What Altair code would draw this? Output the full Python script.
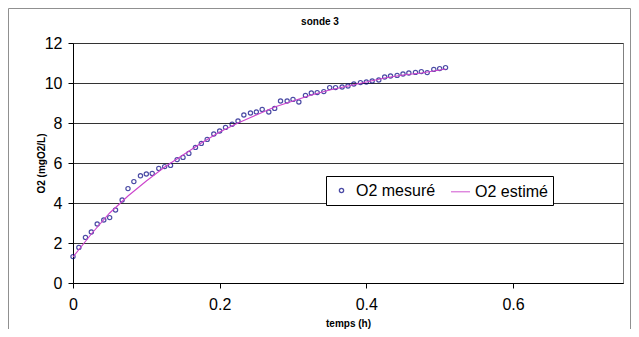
import altair as alt
import pandas as pd

# Measured O2 (points)
t_mes = [0, 0.008, 0.017, 0.025, 0.033, 0.042, 0.05, 0.058, 0.067, 0.075,
         0.083, 0.092, 0.1, 0.108, 0.117, 0.125, 0.133, 0.142, 0.15, 0.158,
         0.167, 0.175, 0.183, 0.192, 0.2, 0.208, 0.217, 0.225, 0.233, 0.242,
         0.25, 0.258, 0.267, 0.275, 0.283, 0.292, 0.3, 0.308, 0.317, 0.325,
         0.333, 0.342, 0.35, 0.358, 0.367, 0.375, 0.383, 0.392, 0.4, 0.408,
         0.417, 0.425, 0.433, 0.442, 0.45, 0.458, 0.467, 0.475, 0.483, 0.492,
         0.5, 0.508]
o2_mes = [1.32, 1.78, 2.28, 2.55, 2.95, 3.15, 3.27, 3.65, 4.15, 4.72,
          5.07, 5.36, 5.45, 5.48, 5.73, 5.82, 5.88, 6.17, 6.28, 6.48,
          6.78, 6.98, 7.18, 7.45, 7.6, 7.78, 7.94, 8.1, 8.4, 8.5,
          8.55, 8.68, 8.55, 8.73, 9.1, 9.1, 9.18, 9.05, 9.38, 9.5,
          9.52, 9.57, 9.77, 9.77, 9.8, 9.85, 9.95, 10.02, 10.05, 10.1,
          10.15, 10.3, 10.35, 10.38, 10.45, 10.5, 10.53, 10.57, 10.52, 10.68,
          10.72, 10.77]

# Estimated O2 (curve)
t_est = [0, 0.025, 0.05, 0.075, 0.1, 0.125, 0.15, 0.175, 0.2, 0.225, 0.25,
         0.275, 0.3, 0.325, 0.35, 0.375, 0.4, 0.425, 0.45, 0.475, 0.5, 0.508]
o2_est = [1.3, 2.45, 3.5, 4.35, 5.1, 5.8, 6.4, 7.0, 7.55, 8.0, 8.4,
          8.8, 9.1, 9.4, 9.65, 9.85, 10.05, 10.25, 10.4, 10.5, 10.65, 10.7]

series_names = ["O2 mesuré", "O2 estimé"]
x_ticks = [0, 0.2, 0.4, 0.6]
y_ticks = [0, 2, 4, 6, 8, 10, 12]

df_mes = pd.DataFrame({"t": t_mes, "o2": o2_mes, "serie": series_names[0]})
df_est = pd.DataFrame({"t": t_est, "o2": o2_est, "serie": series_names[1]})

x_enc = alt.X("t:Q", scale=alt.Scale(domain=[0, 0.75], nice=False, zero=True),
              axis=alt.Axis(values=x_ticks, title="temps (h)", grid=False,
                            format="~g", labelFlush=False,
                            titleY=40, titleBaseline="middle"))
y_enc = alt.Y("o2:Q", scale=alt.Scale(domain=[0, 12], nice=False),
              axis=alt.Axis(values=y_ticks, title="O2 (mgO2/L)", grid=True,
                            titleX=-32, titleY=120, titleBaseline="middle"))

color_scale = alt.Scale(domain=series_names, range=["#000080", "#CC44CC"])
shape_scale = alt.Scale(domain=series_names, range=["circle", "stroke"])
size_scale = alt.Scale(domain=series_names, range=[18, 360])

legend = alt.Legend(title=None, orient="none", legendX=253, legendY=133,
                    direction="horizontal", columns=2, labelFontSize=16,
                    labelFont="Liberation Sans", labelColor="black",
                    strokeColor="black", fillColor="white", padding=5,
                    columnPadding=12, symbolStrokeWidth=1.3, labelOffset=4)

# decorative outer chart frame
frame = alt.Chart(pd.DataFrame({"k": [0]})).mark_rect(
    fill=None, stroke="#909090", strokeWidth=1
).encode(x=alt.value(-64.5), x2=alt.value(557.5),
         y=alt.value(-34.5), y2=alt.value(300))

line = alt.Chart(df_est).mark_line(strokeWidth=1.1).encode(
    x=x_enc, y=y_enc,
    color=alt.Color("serie:N", scale=color_scale, legend=legend),
)

points = alt.Chart(df_mes).mark_point(filled=False, strokeWidth=1.2).encode(
    x=x_enc, y=y_enc,
    color=alt.Color("serie:N", scale=color_scale, legend=legend),
    shape=alt.Shape("serie:N", scale=shape_scale, legend=legend),
    size=alt.Size("serie:N", scale=size_scale, legend=legend),
)

chart = alt.layer(frame, points, line).properties(
    width=550, height=240,
    autosize=alt.AutoSizeParams(type="none"),
    padding={"left": 65, "top": 35, "right": 8, "bottom": 46},
    title=alt.TitleParams("sonde 3", fontSize=10, font="Liberation Sans",
                          fontWeight="bold", color="black", offset=0,
                          dy=19, dx=-28, frame="group"),
).configure_view(
    stroke="#808080", strokeWidth=1
).configure_axis(
    labelFont="Liberation Sans", labelFontSize=16, labelColor="black",
    titleFont="Liberation Sans", titleFontSize=10, titleFontWeight="bold",
    titleColor="black", domainColor="black", tickColor="black",
    tickSize=5, gridColor="#333333", gridWidth=1, domainWidth=1
).configure_axisY(
    labelPadding=6
).configure_axisX(
    labelPadding=8
)

chart.save("out.html", embed_options={"renderer": "svg", "actions": False})
